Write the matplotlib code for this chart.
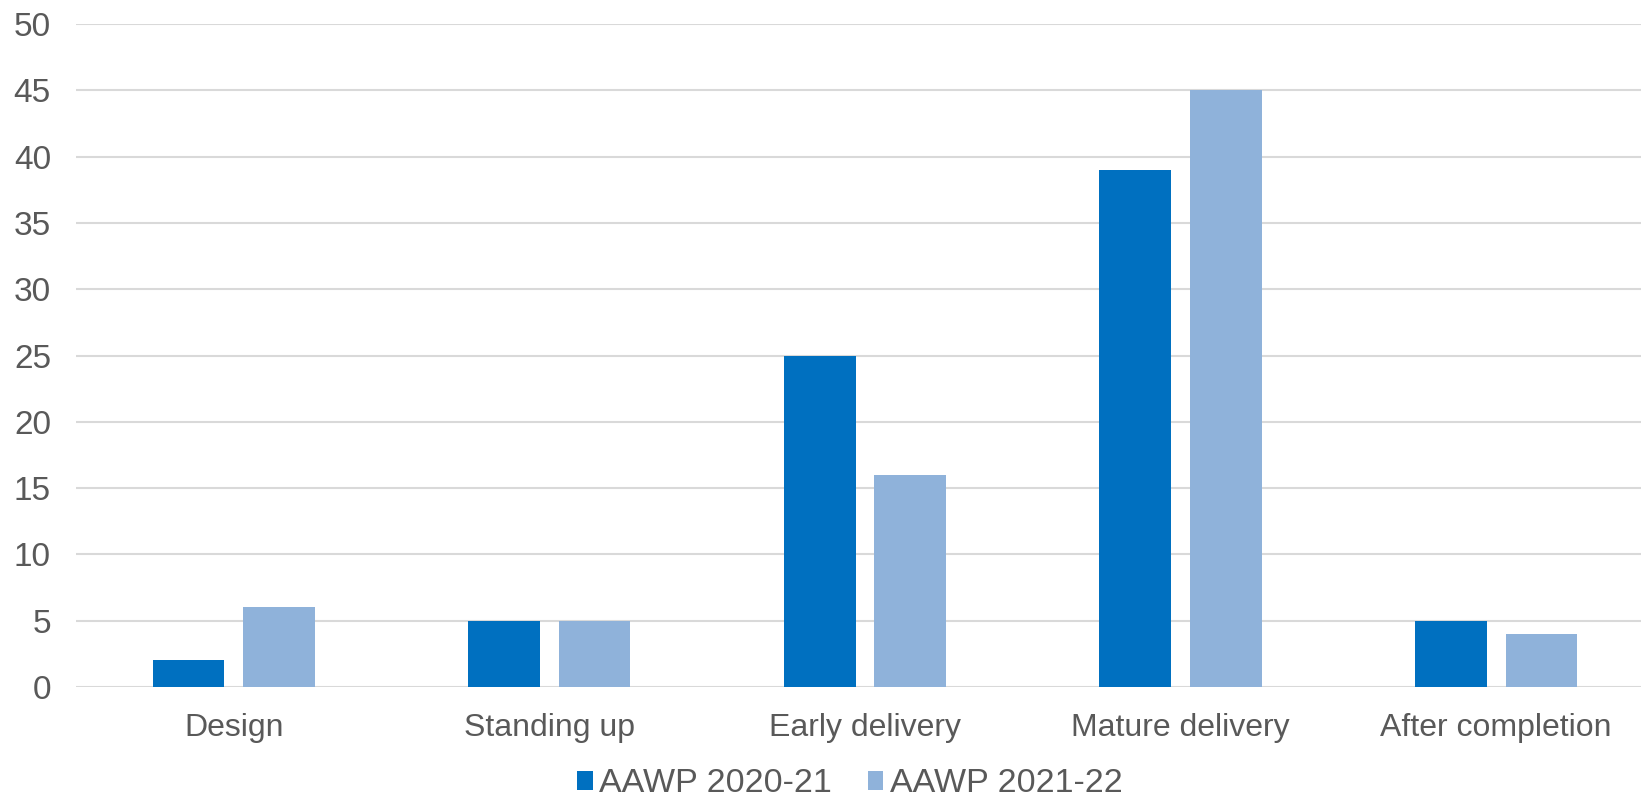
import matplotlib
matplotlib.use("Agg")
import matplotlib.pyplot as plt
import numpy as np

categories = ["Design", "Standing up", "Early delivery", "Mature delivery", "After completion"]
series_names = ["AAWP 2020-21", "AAWP 2021-22"]
aawp_2020_21 = [2, 5, 25, 39, 5]
aawp_2021_22 = [6, 5, 16, 45, 4]
yticks = [0, 5, 10, 15, 20, 25, 30, 35, 40, 45, 50]

plt.rcParams['font.family'] = ['Liberation Sans', 'DejaVu Sans']
txt = '#595959'

W, H = 1641, 799
fig = plt.figure(figsize=(W / 100, H / 100), dpi=100)
ax = fig.add_axes([76 / W, 1 - 687 / H, (W - 76) / W, (687 - 24) / H])

x = np.arange(len(categories))
bw = 0.227
off = (bw + 0.06) / 2
b1 = ax.bar(x - off, aawp_2020_21, bw, color='#0070C0', label=series_names[0], zorder=3)
b2 = ax.bar(x + off, aawp_2021_22, bw, color='#8FB2DA', label=series_names[1], zorder=3)

ax.set_ylim(0, 50)
ax.set_xlim(-0.5, 4.459)
ax.set_yticks(yticks)
ax.set_xticks(x)
ax.set_xticklabels(categories)
ax.tick_params(axis='both', length=0, labelsize=23, labelcolor=txt)
ax.tick_params(axis='y', pad=18, labelsize=24)
ax.tick_params(axis='x', pad=19)
ax.grid(axis='y', color='#d9d9d9', linewidth=1.5, zorder=0)
for s in ax.spines.values():
    s.set_visible(False)

fig.legend(handles=[b1, b2], labels=series_names, loc='center',
           bbox_to_anchor=(850 / W, 1 - 784 / H), ncol=2, frameon=False,
           fontsize=24.5, labelcolor=txt, handlelength=0.45, handleheight=0.45,
           handletextpad=0.2, columnspacing=1.05)

fig.savefig("out.png", dpi=100)
